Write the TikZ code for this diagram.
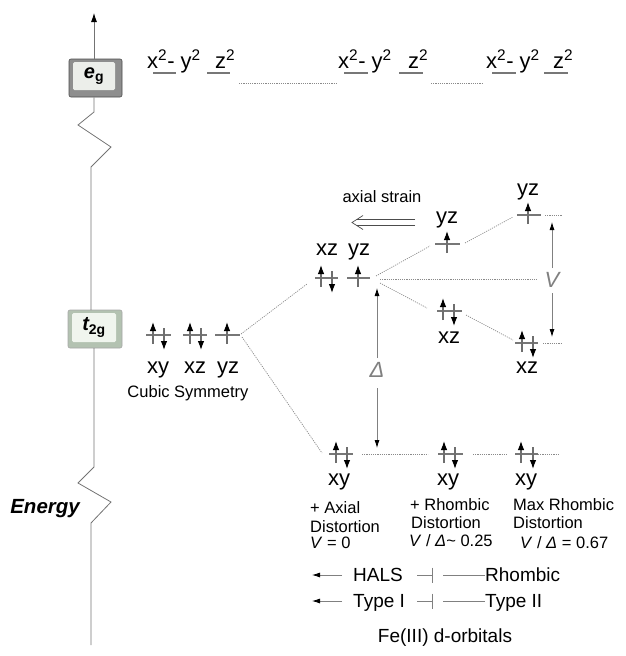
\documentclass[tikz,border=0pt]{standalone}
\usepackage{fontspec}
\setmainfont{Liberation Sans}
\usetikzlibrary{arrows.meta}
\definecolor{lvlc}{HTML}{777777}
\definecolor{dotc}{HTML}{8A8A8A}
\definecolor{spc}{HTML}{6E6E6E}
\definecolor{egout}{HTML}{8E8E8E}
\definecolor{egin}{HTML}{ECEEEA}
\definecolor{tgout}{HTML}{B3C2B1}
\definecolor{tgin}{HTML}{F0F5EE}
\newcommand\lev[4]{\coordinate (#1-l) at (#2,#4); \coordinate (#1-r) at (#3,#4); \draw[lvl] (#1-l) -- (#1-r);}
\newcommand\upa[2]{\draw[spin] (#1,{#2+9}) -- (#1,{#2-13});}
\newcommand\dna[2]{\draw[spin] (#1,{#2-7}) -- (#1,{#2+15});}
\begin{document}
\begin{tikzpicture}[x=1pt,y=-1pt,
  lvl/.style={draw=lvlc, line width=2.6pt},
  dots/.style={draw=dotc, line width=0.7pt, dash pattern=on 1.1pt off 1.1pt},
  spin/.style={draw=spc, line width=1.1pt, -{Latex[length=9pt,width=6.5pt,color=black]}},
  orb/.style={font=\fontsize{22}{24}\selectfont, anchor=base, inner sep=0pt},
  captxt/.style={font=\fontsize{16.5}{18}\selectfont, anchor=base west, inner sep=0pt},
  legtxt/.style={font=\fontsize{19}{21}\selectfont, anchor=base west, inner sep=0pt},
  gaparr/.style={draw=gray, line width=0.8pt, -{Latex[length=8pt,width=5pt,color=black]}},
  axisline/.style={draw=gray!90!black, line width=0.8pt},
  greek/.style={font=\fontsize{22}{24}\selectfont\itshape, text=gray, inner sep=0pt}
]
\useasboundingbox (0,0) rectangle (625,656);

% ---------- energy axis ----------
\coordinate (top) at (94,13);
\node[fill=egout, draw=gray!60!black, line width=0.6pt, rounded corners=2pt, minimum width=53pt, minimum height=38pt, inner sep=0pt] (eg) at (95.5,78) {};
\node[fill=egin, rounded corners=1.5pt, minimum width=42pt, minimum height=28pt, inner sep=0pt, font=\fontsize{20}{22}\selectfont\bfseries] (egl) at (94,76) {\itshape e\textsubscript{\upshape g}};
\node[fill=tgout, draw=gray!70, line width=0.6pt, rounded corners=2pt, minimum width=54pt, minimum height=38pt, inner sep=0pt] (tg) at (95,329) {};
\node[fill=tgin, rounded corners=1.5pt, minimum width=44pt, minimum height=29pt, inner sep=0pt, font=\fontsize{20}{22}\selectfont\bfseries] (tgl) at (94,327.5) {\itshape t\textsubscript{\upshape 2g}};
\draw[axisline,-{Latex[length=9pt,width=6pt,color=black]}] (top |- eg.north) -- (top);
\draw[axisline] (top |- eg.south) -- (94,112) -- (78,125) -- (111,147) -- (91,167) -- (91,310);
\draw[axisline] (94,348) -- (94,467) -- (78,483) -- (111,502) -- (91,523) -- (91,645);
\node[font=\fontsize{20.5}{22}\selectfont\bfseries\itshape, anchor=base east, inner sep=0pt] (energy) at (80,513) {Energy};

% ---------- e_g row ----------
\node[orb, anchor=base west] (x1) at (147,68) {x\textsuperscript{2}- y\textsuperscript{2}};
\node[orb, anchor=base west] (z1) at (215,68) {z\textsuperscript{2}};
\node[orb, anchor=base west] (x2) at (338,68) {x\textsuperscript{2}- y\textsuperscript{2}};
\node[orb, anchor=base west] (z2) at (408,68) {z\textsuperscript{2}};
\node[orb, anchor=base west] (x3) at (486,68) {x\textsuperscript{2}- y\textsuperscript{2}};
\node[orb, anchor=base west] (z3) at (553,68) {z\textsuperscript{2}};
\lev{ea1}{153}{176}{73} \lev{eb1}{207}{230}{73}
\lev{ea2}{344}{368}{73} \lev{eb2}{399}{423}{73}
\lev{ea3}{492}{516}{73} \lev{eb3}{544}{568}{73}
\draw[dots] (239,83) -- (337,83);
\draw[dots] (431,83) -- (482,83);

% ---------- t2g, cubic ----------
\lev{ca}{146}{171}{335} \lev{cb}{183}{207}{335} \lev{cc}{215}{240}{335}
\upa{153}{335} \dna{164}{335}
\upa{190}{335} \dna{201}{335}
\upa{227}{335}
\node[orb] at (158,373) {xy};
\node[orb] at (195,373) {xz};
\node[orb] at (228,373) {yz};
\node[captxt, anchor=base] (cubic) at (188,397) {Cubic Symmetry};

% ---------- axial ----------
\lev{mxz}{315}{338}{278} \lev{myz}{347}{370}{278} \lev{mxy}{329}{353}{454}
\upa{321}{278} \dna{332}{278}
\upa{358}{278}
\upa{336}{454} \dna{347}{454}
\node[orb] at (327,255) {xz};
\node[orb] at (359,255) {yz};
\node[orb] at (339,485) {xy};

% ---------- rhombic ----------
\lev{r1yz}{435}{460}{244} \lev{r1xz}{437}{462}{311} \lev{r1xy}{438}{463}{454}
\upa{447}{244}
\upa{443}{311} \dna{454}{311}
\upa{444}{454} \dna{455}{454}
\node[orb] at (447,223) {yz};
\node[orb] at (449,343) {xz};
\node[orb] at (448,485) {xy};

% ---------- max rhombic ----------
\lev{r2yz}{517}{541}{215} \lev{r2xz}{515}{538}{343} \lev{r2xy}{515}{538}{454}
\upa{528}{215}
\upa{522}{343} \dna{533}{343}
\upa{521}{454} \dna{533}{454}
\node[orb] at (528,195) {yz};
\node[orb] at (527,373) {xz};
\node[orb] at (526,485) {xy};

% ---------- correlation lines ----------
\draw[dots] (241,334) -- (307,284);
\draw[dots] (242,337) -- (322,453);
\draw[dots] (376,276) -- (430,246);
\draw[dots] (380,279) -- (538,279);
\draw[dots] (380,283) -- (427,308);
\draw[dots] (465,243) -- (513,217);
\draw[dots] (466,315) -- (513,340);
\draw[dots] (545,215) -- (562,215);
\draw[dots] (543,343) -- (562,343);
\draw[dots] (362,454) -- (428,454);
\draw[dots] (473,454) -- (508,454);
\draw[dots] (538,454) -- (558,454);

% ---------- Delta and V ----------
\node[greek] (delta) at (377,370) {Δ};
\draw[gaparr] (377,358) -- (377,288);
\draw[gaparr] (377,388) -- (377,448);
\node[greek] (vv) at (552,280) {V};
\draw[gaparr] (552,268) -- (552,222);
\draw[gaparr] (552,293) -- (552,337);

% ---------- axial strain ----------
\node[captxt, anchor=base] (strain) at (382,202) {axial strain};
\draw[draw=gray!60!black, line width=0.7pt] (415,219.5) -- (357,219.5);
\draw[draw=gray!60!black, line width=0.7pt] (415,225.5) -- (357,225.5);
\draw[draw=gray!60!black, line width=0.7pt, line join=miter] (363,215.5) -- (352,222.5) -- (363,229.5);

% ---------- captions ----------
\node[captxt] at (310,513) {+ Axial};
\node[captxt] at (310,532) {Distortion};
\node[captxt] at (310,548) {\textit{V} = 0};
\node[captxt] at (410,510) {+ Rhombic};
\node[captxt] at (411,528) {Distortion};
\node[captxt] at (409,546) {\textit{V} / \textit{Δ}\textasciitilde{} 0.25};
\node[captxt] at (513,510) {Max Rhombic};
\node[captxt] at (513,528) {Distortion};
\node[captxt] at (520,548) {\textit{V} / \textit{Δ} = 0.67};

% ---------- legend ----------
\node[legtxt] (hals) at (353,581) {HALS};
\node[legtxt] (rhomb) at (485,581) {Rhombic};
\node[legtxt] (type1) at (353,607) {Type I};
\node[legtxt] (type2) at (485,607) {Type II};
\draw[gaparr] (342,575) -- (312,575);
\draw[gaparr] (342,601) -- (312,601);
\draw[draw=gray, line width=0.8pt, -{Bar[width=15pt]}] (417,575) -- (433,575);
\draw[draw=gray, line width=0.8pt, -{Bar[width=15pt]}] (417,601) -- (433,601);
\draw[draw=gray, line width=0.8pt] (443,575) -- (485,575);
\draw[draw=gray, line width=0.8pt] (443,601) -- (485,601);
\node[legtxt, anchor=base] (title) at (445,642) {Fe(III) d-orbitals};
\end{tikzpicture}
\end{document}
